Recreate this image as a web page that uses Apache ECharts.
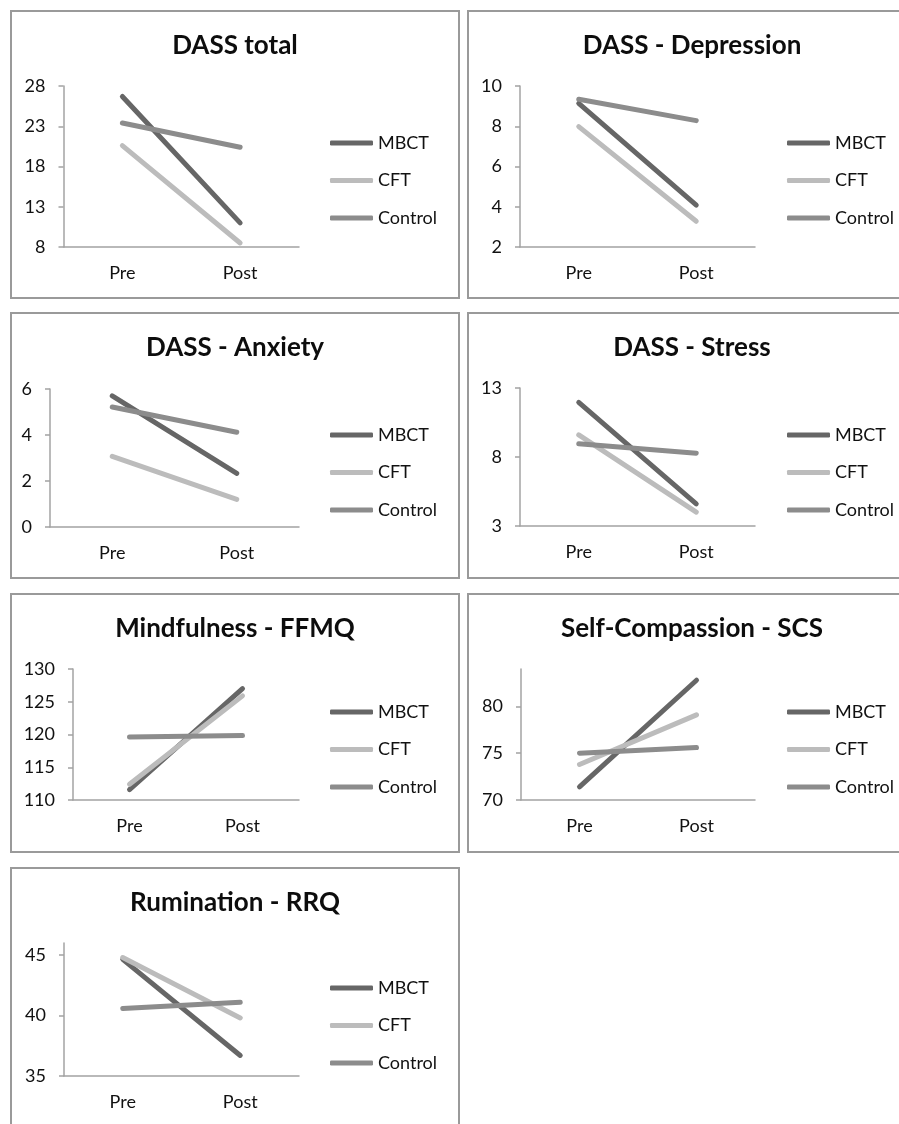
<!DOCTYPE html>
<html>
<head>
<meta charset="utf-8">
<script src="https://cdn.jsdelivr.net/npm/echarts@6/dist/echarts.min.js"></script>
<style>
  html, body { margin: 0; padding: 0; background: #fff; width: 899px; height: 1124px; overflow: hidden; position: relative; }
  .panel { position: absolute; outline: 2px solid #9a9a9a; outline-offset: -2px; background: #fff; }
</style>
</head>
<body>
<div id="p1" class="panel"></div>
<div id="p2" class="panel"></div>
<div id="p3" class="panel"></div>
<div id="p4" class="panel"></div>
<div id="p5" class="panel"></div>
<div id="p6" class="panel"></div>
<div id="p7" class="panel"></div>
<script>
// ---------- DATA ----------
const categories = ['Pre', 'Post'];
const groupNames = ['MBCT', 'CFT', 'Control'];

const titles = ['DASS total', 'DASS - Depression', 'DASS - Anxiety', 'DASS - Stress',
                'Mindfulness - FFMQ', 'Self-Compassion - SCS', 'Rumination - RRQ'];

const dassTotalMBCT = [26.7, 11.0];
const dassTotalCFT = [20.6, 8.5];
const dassTotalControl = [23.4, 20.4];
const dassTotalTicks = [8, 13, 18, 23, 28];

const depressionMBCT = [9.14, 4.08];
const depressionCFT = [7.98, 3.28];
const depressionControl = [9.34, 8.28];
const depressionTicks = [2, 4, 6, 8, 10];

const anxietyMBCT = [5.7, 2.33];
const anxietyCFT = [3.07, 1.2];
const anxietyControl = [5.22, 4.12];
const anxietyTicks = [0, 2, 4, 6];

const stressMBCT = [11.96, 4.6];
const stressCFT = [9.6, 4.0];
const stressControl = [8.96, 8.28];
const stressTicks = [3, 8, 13];

const ffmqMBCT = [111.6, 127.0];
const ffmqCFT = [112.4, 125.9];
const ffmqControl = [119.6, 119.85];
const ffmqTicks = [110, 115, 120, 125, 130];

const scsMBCT = [71.4, 82.8];
const scsCFT = [73.8, 79.1];
const scsControl = [75.0, 75.6];
const scsTicks = [70, 75, 80];

const rrqMBCT = [44.65, 36.7];
const rrqCFT = [44.8, 39.8];
const rrqControl = [40.58, 41.1];
const rrqTicks = [35, 40, 45];

// axis extents
const axisMin = [8, 2, 0, 3, 110, 70, 35];
const axisMax = [28, 10, 6, 13, 130, 84, 46];

// ---------- LAYOUT / STYLE ----------
const panelData = [
  [dassTotalMBCT, dassTotalCFT, dassTotalControl, dassTotalTicks],
  [depressionMBCT, depressionCFT, depressionControl, depressionTicks],
  [anxietyMBCT, anxietyCFT, anxietyControl, anxietyTicks],
  [stressMBCT, stressCFT, stressControl, stressTicks],
  [ffmqMBCT, ffmqCFT, ffmqControl, ffmqTicks],
  [scsMBCT, scsCFT, scsControl, scsTicks],
  [rrqMBCT, rrqCFT, rrqControl, rrqTicks]
];

const layout = [
  { x: 10,  y: 10,  w: 450, h: 289, grid: { left: 53.5, top: 76, width: 235.5, height: 161 }, legendTop: 143 - 10 },
  { x: 467, y: 10,  w: 450, h: 289, grid: { left: 53,   top: 76, width: 235,   height: 161 }, legendTop: 143 - 10 },
  { x: 10,  y: 312, w: 450, h: 267, grid: { left: 40,   top: 77, width: 249,   height: 138 }, legendTop: 435 - 312 },
  { x: 467, y: 312, w: 450, h: 267, grid: { left: 53,   top: 76, width: 235,   height: 138 }, legendTop: 435 - 312 },
  { x: 10,  y: 593, w: 450, h: 260, grid: { left: 63,   top: 76, width: 226,   height: 131 }, legendTop: 712 - 593 },
  { x: 467, y: 593, w: 450, h: 260, grid: { left: 54,   top: 76, width: 234,   height: 131 }, legendTop: 712 - 593 },
  { x: 10,  y: 867, w: 450, h: 270, grid: { left: 54,   top: 76, width: 235,   height: 133 }, legendTop: 988 - 867 }
];

const colors = ['#666666', '#bcbcbc', '#8c8c8c'];
const FONT = 'Lato, "Open Sans", sans-serif';
const axisColor = '#a3a3a3';

layout.forEach((L, i) => {
  const el = document.getElementById('p' + (i + 1));
  el.style.left = L.x + 'px';
  el.style.top = L.y + 'px';
  el.style.width = L.w + 'px';
  el.style.height = L.h + 'px';
  const chart = echarts.init(el, null, { renderer: 'canvas' });
  const d = panelData[i];
  const ticks = d[3];
  chart.setOption({
    animation: false,
    color: colors,
    title: {
      text: titles[i],
      left: 'center',
      top: 18,
      textStyle: { fontFamily: FONT, fontWeight: 'bold', fontSize: 26, color: '#0d0d0d' }
    },
    legend: {
      orient: 'vertical',
      left: 320,
      top: L.legendTop - 10,
      padding: 0,
      icon: 'roundRect',
      itemWidth: 43,
      itemHeight: 5,
      itemGap: 17.5,
      selectedMode: false,
      data: groupNames,
      textStyle: { fontFamily: FONT, fontSize: 18, lineHeight: 20, color: '#111' }
    },
    grid: Object.assign({ containLabel: false }, L.grid),
    xAxis: {
      type: 'category',
      data: categories,
      boundaryGap: true,
      axisLine: { lineStyle: { color: axisColor, width: 1.5 } },
      axisTick: { show: false },
      axisLabel: { fontFamily: FONT, fontSize: 18, color: '#111', margin: 17 }
    },
    yAxis: {
      type: 'value',
      min: axisMin[i],
      max: axisMax[i],
      axisLine: { show: true, lineStyle: { color: axisColor, width: 1.5 } },
      axisTick: { show: true, length: 5, lineStyle: { color: axisColor, width: 1.5 }, customValues: ticks },
      axisLabel: { fontFamily: FONT, fontSize: 18, color: '#111', margin: 18, customValues: ticks },
      splitLine: { show: false }
    },
    series: groupNames.map((name, k) => ({
      name: name,
      type: 'line',
      data: d[k],
      symbol: 'none',
      lineStyle: { width: 5, color: colors[k], cap: 'round' },
      itemStyle: { color: colors[k] },
      emphasis: { disabled: true }
    }))
  });
});
</script>
</body>
</html>
